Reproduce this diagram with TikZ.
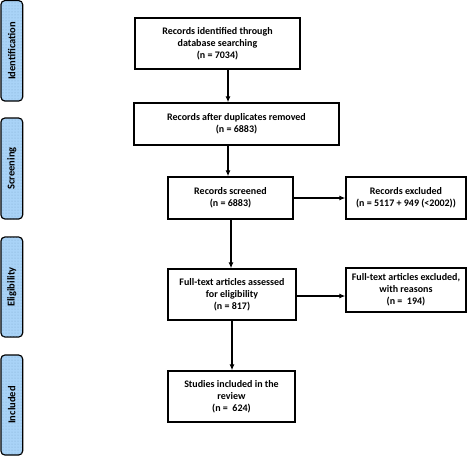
\documentclass[tikz,border=0pt]{standalone}
\usepackage{fontspec}
\setmainfont{Carlito}
\usetikzlibrary{arrows.meta,patterns}
\definecolor{sideblue}{HTML}{A9D3F7}
\definecolor{sidedot}{HTML}{7FA9CF}
\begin{document}
\begin{tikzpicture}[x=1pt,y=-1pt,
  box/.style={draw=black,line width=1.3pt,fill=white,align=center,inner sep=0pt,
    font=\fontsize{10}{12}\selectfont\bfseries},
  sidebar/.style={draw=black,line width=1.2pt,rounded corners=4pt,fill=sideblue,
    postaction={pattern=dots,pattern color=sidedot},
    rotate=90,minimum height=21.7pt,inner sep=0pt,
    font=\fontsize{10.5}{12}\selectfont\bfseries},
  arr/.style={line width=1.3pt,-{Latex[length=6pt,width=5pt]}}]
\useasboundingbox (0,0) rectangle (473,456);
% side bars
\node[sidebar,minimum width=100.5pt] (s1) at (11.8,50.8) {Identification};
\node[sidebar,minimum width=101pt] (s2) at (11.8,168.5) {Screening};
\node[sidebar,minimum width=100pt] (s3) at (11.8,287) {Eligibility};
\node[sidebar,minimum width=100pt] (s4) at (11.8,405) {Included};
% boxes
\node[box,minimum width=165pt,minimum height=51pt] (b1) at (217.5,43.5)
  {Records identified through\\database searching\\(n = 7034)};
\node[box,minimum width=205pt,minimum height=42pt] (b2) at (236.5,124)
  {Records after duplicates removed\\(n = 6883)};
\node[box,minimum width=125pt,minimum height=42pt] (b3) at (230.5,198)
  {Records screened\\(n = 6883)};
\node[box,minimum width=120pt,minimum height=42pt] (e1) at (406,198)
  {Records excluded\\(n = 5117 + 949 (<2002))};
\node[box,minimum width=128pt,minimum height=51pt] (b4) at (232,294.5)
  {Full-text articles assessed\\for eligibility\\(n = 817)};
\node[box,minimum width=120pt,minimum height=44pt] (e2) at (406,290)
  {Full-text articles excluded,\\with reasons\\(n =\ \ 194)};
\node[box,minimum width=127pt,minimum height=51pt] (b5) at (231.5,396.5)
  {Studies included in the\\review\\(n =\ \ 624)};
% arrow positions
\coordinate (xa) at (228,0);
\coordinate (xb) at (231,0);
\coordinate (xc) at (232,0);
\coordinate (ya) at (0,198);
\coordinate (yb) at (0,296);
\draw[arr] (b1.south -| xa) -- (b2.north -| xa);
\draw[arr] (b2.south -| xa) -- (b3.north -| xa);
\draw[arr] (b3.south -| xb) -- (b4.north -| xb);
\draw[arr] (b4.south -| xc) -- (b5.north -| xc);
\draw[arr] (b3.east |- ya) -- (e1.west |- ya);
\draw[arr] (b4.east |- yb) -- (e2.west |- yb);
\end{tikzpicture}
\end{document}
